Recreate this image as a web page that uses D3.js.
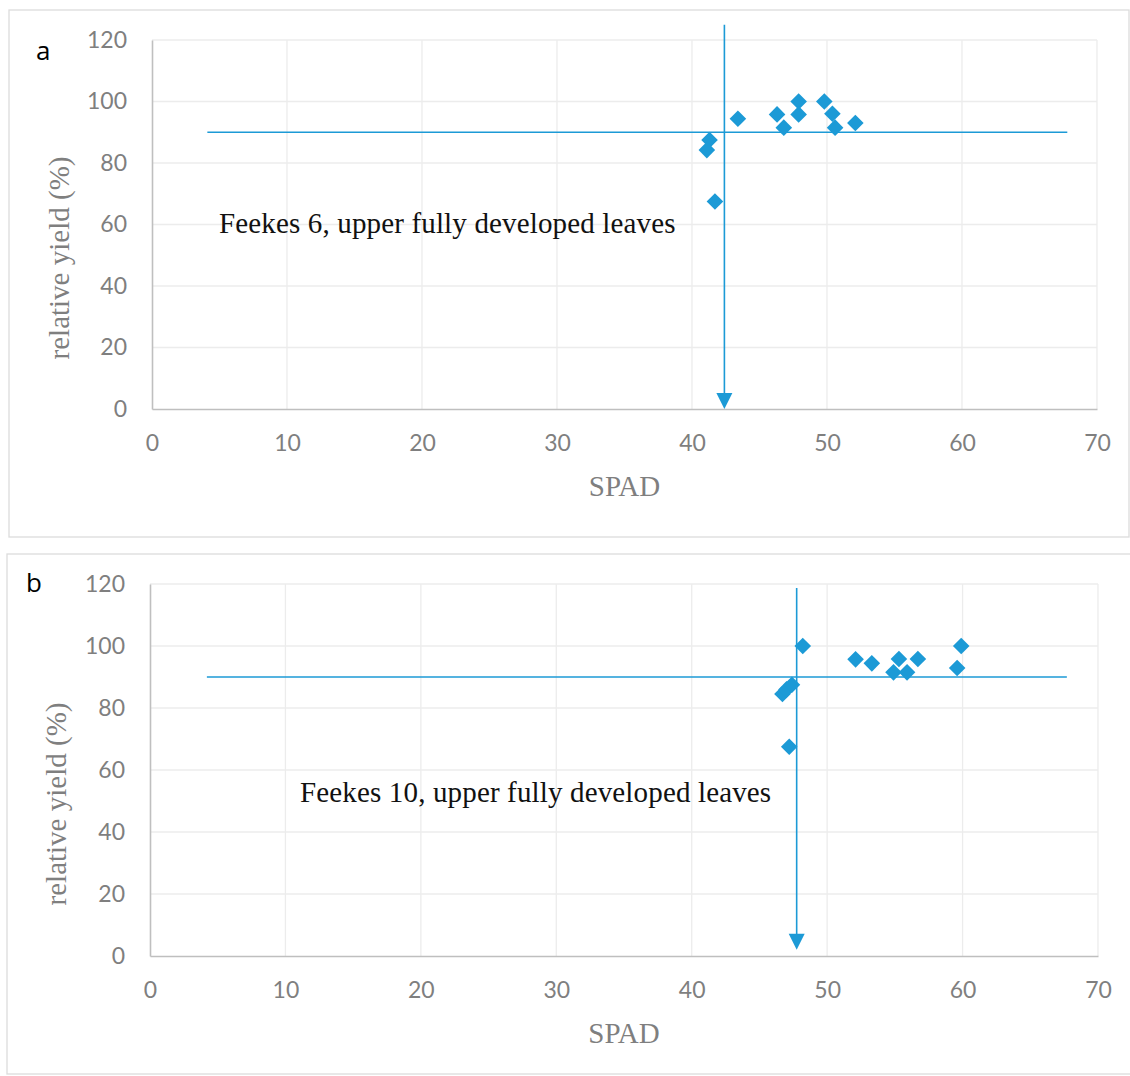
<!DOCTYPE html>
<html>
<head>
<meta charset="utf-8">
<script src="https://cdn.jsdelivr.net/npm/d3@7"></script>
<style>
  html, body { margin: 0; padding: 0; background: #fff; }
  svg { display: block; }
</style>
</head>
<body>
<svg id="chart" width="1130" height="1076"></svg>
<script>
// SPAD readings and relative yield (%) at two growth stages
const spadF6  = [41.3, 41.1, 41.7, 43.4, 46.3, 46.8, 47.9, 47.9, 49.8, 50.4, 50.6, 52.1];
const yieldF6 = [87.5, 84.2, 67.5, 94.4, 95.8, 91.5, 100, 95.8, 100, 96.0, 91.5, 93.0];

const spadF10  = [48.2, 52.1, 53.3, 54.9, 55.3, 55.9, 56.7, 59.6, 59.9, 46.7, 47.0, 47.4, 47.2];
const yieldF10 = [100, 95.7, 94.4, 91.5, 95.8, 91.5, 95.8, 92.9, 100, 84.5, 86.0, 87.5, 67.5];

// critical values: 90 % relative yield and the SPAD threshold reached there
const yieldThreshold = 90;
const spadThresholdF6 = 42.4;
const spadThresholdF10 = 47.75;

const xTicks = [0, 10, 20, 30, 40, 50, 60, 70];
const yTicks = [0, 20, 40, 60, 80, 100, 120];

const panelLetters = ["a", "b"];
const panelTitles = ["Feekes 6, upper fully developed leaves", "Feekes 10, upper fully developed leaves"];
const xTitle = "SPAD";
const yTitle = "relative yield (%)";

const blue = "#1c9ad6";
const serif = "'Liberation Serif', 'Times New Roman', serif";
const svg = d3.select("#chart");

function drawPanel(p) {
  const g = svg.append("g");

  // panel frame
  g.append("rect")
    .attr("x", p.frame[0]).attr("y", p.frame[1])
    .attr("width", p.frame[2]).attr("height", p.frame[3])
    .attr("fill", "#fff").attr("stroke", "#dcdcdc").attr("stroke-width", 1.3);

  const x = d3.scaleLinear().domain([0, 70]).range([p.left, p.right]);
  const y = d3.scaleLinear().domain([0, 120]).range([p.bottom, p.top]);

  // grid
  g.append("g").selectAll("line").data(xTicks.slice(1)).join("line")
    .attr("x1", d => x(d)).attr("x2", d => x(d))
    .attr("y1", y(0)).attr("y2", y(120))
    .attr("stroke", "#ececec").attr("stroke-width", 1.3);
  g.append("g").selectAll("line").data(yTicks.slice(1)).join("line")
    .attr("x1", x(0)).attr("x2", x(70))
    .attr("y1", d => y(d)).attr("y2", d => y(d))
    .attr("stroke", "#ececec").attr("stroke-width", 1.3);

  // axes
  const xAxis = d3.axisBottom(x).tickValues(xTicks).tickSize(0).tickPadding(p.xPad);
  const yAxis = d3.axisLeft(y).tickValues(yTicks).tickSize(0).tickPadding(p.yPad);
  const gx = g.append("g").attr("transform", `translate(0,${y(0)})`).call(xAxis);
  const gy = g.append("g").attr("transform", `translate(${x(0)},0)`).call(yAxis);
  [gx, gy].forEach(a => {
    a.select(".domain").attr("stroke", "#bfbfbf").attr("stroke-width", 1.6);
    a.selectAll("text").attr("fill", "#7f7f7f")
      .style("font-family", "Lato, 'Open Sans', sans-serif").style("font-size", "23px");
  });

  // threshold lines
  g.append("line")
    .attr("x1", x(p.hFrom)).attr("x2", x(p.hTo))
    .attr("y1", y(yieldThreshold)).attr("y2", y(yieldThreshold))
    .attr("stroke", blue).attr("stroke-width", 1.6);
  g.append("line")
    .attr("x1", x(p.spadThreshold)).attr("x2", x(p.spadThreshold))
    .attr("y1", y(p.vTop)).attr("y2", y(p.vBottom) - 14)
    .attr("stroke", blue).attr("stroke-width", 1.6);
  const tx = x(p.spadThreshold), ty = y(p.vBottom);
  g.append("path")
    .attr("d", `M${tx},${ty}L${tx - 8},${ty - 16}L${tx + 8},${ty - 16}Z`)
    .attr("fill", blue);

  // points
  const pts = p.spad.map((s, i) => [s, p.yield[i]]);
  g.append("g").selectAll("path").data(pts).join("path")
    .attr("transform", d => `translate(${x(d[0])},${y(d[1])})`)
    .attr("d", "M0,-8.3L8.3,0L0,8.3L-8.3,0Z")
    .attr("fill", blue);

  // titles
  g.append("text")
    .attr("x", p.titlePos[0]).attr("y", p.titlePos[1])
    .attr("fill", "#111")
    .style("font-family", serif)
    .style("font-size", "29px")
    .style("letter-spacing", "0.15px")
    .text(p.title);

  g.append("text")
    .attr("x", p.letterPos[0]).attr("y", p.letterPos[1])
    .attr("fill", "#000")
    .style("font-family", "'Open Sans', sans-serif").style("font-size", "26px")
    .text(p.letter);

  g.append("text")
    .attr("x", (x(0) + x(70)) / 2).attr("y", p.xTitleY)
    .attr("text-anchor", "middle").attr("fill", "#7f7f7f")
    .style("font-family", serif)
    .style("font-size", "29px")
    .text(xTitle);

  g.append("text")
    .attr("transform", `translate(${p.yTitlePos[0]},${p.yTitlePos[1]}) rotate(-90)`)
    .attr("text-anchor", "middle").attr("fill", "#7f7f7f")
    .style("font-family", serif)
    .style("font-size", "29px")
    .text(yTitle);
}

drawPanel({
  frame: [9, 10, 1120, 527],
  left: 152, right: 1097, top: 40, bottom: 409,
  xPad: 26, yPad: 25,
  hFrom: 4.1, hTo: 67.8,
  spadThreshold: spadThresholdF6, vTop: 125, vBottom: 0,
  spad: spadF6, yield: yieldF6,
  title: panelTitles[0], titlePos: [219, 233],
  letter: panelLetters[0], letterPos: [36, 60],
  xTitleY: 496, yTitlePos: [69, 258]
});

drawPanel({
  frame: [7, 554, 1124, 520],
  left: 150, right: 1098, top: 584, bottom: 956,
  xPad: 26, yPad: 25,
  hFrom: 4.2, hTo: 67.7,
  spadThreshold: spadThresholdF10, vTop: 118.7, vBottom: 2,
  spad: spadF10, yield: yieldF10,
  title: panelTitles[1], titlePos: [300, 802],
  letter: panelLetters[1], letterPos: [26, 592],
  xTitleY: 1043, yTitlePos: [66, 804]
});
</script>
</body>
</html>
